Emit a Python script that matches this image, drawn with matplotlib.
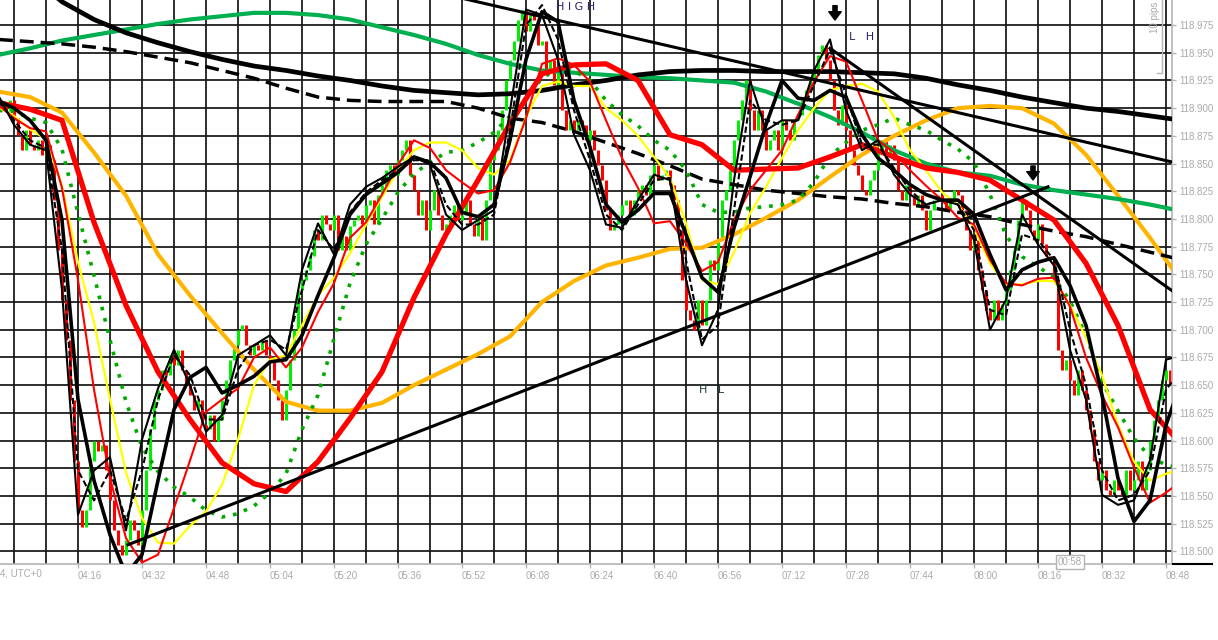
import numpy as np
import matplotlib
matplotlib.use('Agg')
import matplotlib.pyplot as plt
from matplotlib.lines import Line2D

# all series are kept in points (0.001) above 118.000
BASE = 118.0

# minute of day for each sample (04:16 -> 256)
slow_t = list(range(236, 533, 8))
fast_t = list(range(236, 533, 4))
candle_t = list(range(237, 530))

# slow averages (8 min samples)
ma_black_slow = [1052, 1020, 996, 980, 968, 959, 951, 944, 938, 934, 929, 925, 920, 916, 914, 912, 913, 916, 921,
                 925, 930, 933, 934, 934, 933, 933, 933, 932, 931, 927, 921, 916, 910, 905, 900, 897, 893, 889]
ma_green = [948, 954, 961, 966, 971, 976, 980, 983, 986, 986, 984, 980, 973, 966, 958, 948, 940, 934, 932,
            930, 928, 927, 925, 923, 915, 904, 892, 878, 862, 850, 842, 839, 831, 826, 822, 818, 813, 807]
ma_dashdot = [962, 960, 958, 955, 951, 946, 941, 934, 927, 918, 910, 907, 906, 906, 906, 900, 891, 887, 879,
              869, 859, 848, 836, 831, 826, 823, 820, 818, 814, 811, 806, 802, 795, 789, 784, 777, 770, 763]
ma_orange = [915, 910, 896, 860, 821, 768, 731, 697, 664, 635, 627, 627, 634, 650, 664, 678, 694, 725, 744,
             758, 765, 773, 774, 786, 801, 817, 838, 858, 875, 889, 900, 902, 900, 886, 858, 821, 783, 743]
ma_red_thick = [905, 899, 889, 797, 722, 662, 619, 580, 561, 554, 581, 620, 662, 729, 786, 835, 886, 931, 939,
                940, 925, 876, 867, 844, 845, 846, 856, 867, 856, 846, 842, 835, 817, 799, 760, 704, 628, 596]

# fast averages (4 min samples)
ma_green_dots = [898, 897, 891, 887, 863, 805, 749, 691, 635, 594, 572, 558, 549, 537, 531, 534, 541, 553, 570,
                 610, 641, 692, 742, 777, 800, 824, 841, 851, 860, 862, 869, 878, 893, 909, 927, 936, 934, 925,
                 907, 894, 884, 871, 862, 844, 813, 806, 806, 810, 811, 813, 817, 833, 857, 869, 880, 885, 891,
                 885, 880, 871, 863, 851, 822, 785, 766, 757, 747, 726, 695, 653, 627, 602, 585, 578, 575]
ma_yellow = [901, 893, 881, 872, 830, 761, 707, 637, 571, 530, 508, 507, 523, 536, 560, 601, 650, 673, 677,
             704, 731, 747, 769, 795, 820, 844, 862, 869, 869, 862, 846, 840, 853, 892, 920, 924, 920, 920,
             900, 889, 875, 856, 837, 796, 745, 741, 770, 805, 829, 855, 880, 900, 916, 920, 922, 915, 892,
             862, 844, 824, 813, 792, 760, 740, 741, 744, 744, 722, 693, 659, 614, 581, 564, 570, 575]
ma_red_thin = [903, 891, 882, 879, 828, 745, 646, 566, 512, 490, 497, 539, 582, 626, 637, 647, 675, 684, 666,
               684, 716, 742, 783, 797, 822, 849, 871, 864, 844, 833, 823, 826, 851, 891, 940, 945, 939, 924,
               889, 855, 828, 796, 798, 778, 753, 761, 799, 826, 844, 862, 894, 924, 947, 942, 907, 871, 860,
               844, 830, 817, 801, 795, 763, 742, 740, 746, 747, 721, 675, 641, 612, 576, 544, 553, 564]
ma_black_mid = [907, 900, 889, 871, 799, 637, 564, 515, 479, 497, 564, 628, 657, 666, 643, 650, 658, 671, 673,
                695, 731, 765, 804, 822, 832, 842, 856, 851, 837, 806, 802, 813, 871, 944, 987, 978, 907, 865,
                813, 797, 808, 823, 823, 786, 747, 734, 792, 838, 885, 925, 909, 907, 916, 910, 876, 855, 844,
                831, 822, 817, 817, 804, 768, 736, 754, 761, 765, 740, 704, 641, 566, 527, 546, 614, 655]
ma_black_fast = [912, 885, 867, 862, 736, 533, 573, 585, 519, 601, 647, 682, 650, 608, 623, 677, 686, 695, 677,
                 754, 796, 768, 813, 829, 837, 847, 856, 849, 804, 790, 799, 808, 898, 989, 984, 944, 876, 844,
                 795, 792, 817, 840, 835, 745, 686, 718, 835, 925, 880, 889, 889, 934, 962, 898, 862, 871, 840,
                 822, 813, 817, 813, 781, 700, 727, 804, 777, 758, 682, 637, 551, 542, 546, 582, 673, 677]
ma_black_dash = [907, 889, 871, 864, 772, 573, 546, 573, 528, 573, 637, 677, 659, 619, 619, 664, 686, 691, 682,
                 736, 790, 772, 806, 824, 835, 844, 853, 853, 813, 795, 795, 804, 880, 975, 993, 962, 898, 853,
                 804, 790, 813, 835, 837, 763, 691, 704, 808, 907, 889, 885, 889, 921, 953, 912, 867, 867, 846,
                 826, 813, 817, 813, 790, 718, 713, 786, 781, 763, 700, 650, 573, 546, 551, 573, 646, 664]

# one minute closes
first_open = 905
candle_close = [903, 897, 907, 891, 876, 862, 880, 867, 862, 871, 858, 867, 853, 817, 772, 727,
                691, 637, 582, 537, 522, 537, 582, 600, 591, 596, 573, 546, 519, 506, 497, 510,
                528, 519, 506, 537, 573, 610, 637, 646, 664, 659, 677, 668, 682, 664, 650, 641,
                628, 637, 614, 610, 623, 600, 619, 637, 655, 673, 686, 700, 704, 686, 677, 686,
                682, 691, 677, 673, 655, 637, 619, 646, 673, 700, 736, 745, 754, 767, 790, 781,
                804, 795, 790, 804, 772, 785, 772, 794, 799, 804, 795, 813, 817, 795, 822, 831,
                844, 849, 840, 853, 862, 871, 840, 826, 804, 817, 790, 808, 826, 804, 790, 795,
                804, 813, 799, 804, 817, 795, 785, 804, 781, 817, 853, 862, 880, 898, 925, 943,
                961, 980, 989, 970, 984, 980, 957, 961, 934, 943, 921, 934, 898, 880, 889, 880,
                889, 885, 871, 880, 862, 849, 835, 808, 790, 795, 804, 813, 817, 804, 817, 826,
                831, 822, 840, 849, 835, 840, 844, 831, 817, 790, 745, 718, 709, 700, 727, 704,
                727, 763, 754, 781, 817, 826, 844, 871, 889, 907, 925, 898, 880, 898, 880, 862,
                871, 880, 862, 889, 880, 871, 889, 894, 907, 916, 925, 934, 948, 957, 943, 925,
                898, 885, 903, 880, 862, 849, 840, 826, 822, 835, 844, 862, 871, 858, 867, 853,
                826, 817, 831, 822, 813, 822, 808, 790, 808, 817, 822, 817, 808, 817, 826, 822,
                808, 790, 772, 781, 754, 736, 718, 709, 727, 709, 723, 736, 754, 772, 799, 817,
                808, 790, 781, 795, 777, 767, 763, 745, 682, 664, 673, 655, 641, 664, 646, 628,
                610, 582, 564, 573, 555, 551, 564, 555, 551, 573, 555, 564, 582, 555, 573, 600,
                619, 637, 655, 664, 650]

# hand drawn trend lines (minute, points)
trend_high = ([345, 530], [1005, 851])
trend_lh = ([444, 530], [954, 734])
trend_support = ([268.5, 498.5], [506, 829])

price_levels = [500 + 25 * k for k in range(20)]
time_ticks = list(range(256, 529, 16))


def to_price(pts):
    return BASE + np.asarray(pts, dtype=float) / 1000.0


def main():
    W, H = 1218, 640
    fig = plt.figure(figsize=(W / 100, H / 100), dpi=100)
    ax = fig.add_axes([0, 76 / H, 1172 / W, 564 / H])
    ax.set_xlim(236.5, 529.5)
    ax.set_ylim(118.4886, 118.9976)

    # grid
    for t in range(240, 530, 8):
        ax.axvline(t, color='#141414', lw=1.25, zorder=0)
    for lv in to_price(price_levels):
        ax.axhline(lv, color='#141414', lw=1.25, zorder=0)

    # candles
    closes = to_price(candle_close)
    opens = np.r_[to_price([first_open]), closes[:-1]]
    cols = np.where(closes >= opens, '#00ee00', '#ff0000')
    ax.vlines(candle_t, np.minimum(opens, closes), np.maximum(opens, closes),
              colors=cols, lw=2.2, zorder=2)

    # moving averages
    ax.plot(slow_t, to_price(ma_orange), color='#ffb400', lw=3.0, zorder=3)
    ax.plot(slow_t, to_price(ma_green), color='#00b050', lw=3.0, zorder=3)
    ax.plot(slow_t, to_price(ma_dashdot), color='black', lw=2.5, ls=(0, (4, 2)), zorder=3)
    ax.plot(slow_t, to_price(ma_black_slow), color='black', lw=3.4, zorder=3)
    ax.plot(fast_t, to_price(ma_green_dots), color='#00aa00', lw=2.6, ls=(0, (1, 2.2)), zorder=3)
    ax.plot(fast_t, to_price(ma_yellow), color='#ffff00', lw=1.6, zorder=4)
    ax.plot(fast_t, to_price(ma_red_thin), color='#ff0000', lw=1.5, zorder=4)
    ax.plot(slow_t, to_price(ma_red_thick), color='#ff0000', lw=3.8, zorder=4)
    ax.plot(fast_t, to_price(ma_black_dash), color='black', lw=1.5, ls=(0, (3, 1.5)), zorder=5)
    ax.plot(fast_t, to_price(ma_black_fast), color='black', lw=1.5, zorder=5)
    ax.plot(fast_t, to_price(ma_black_mid), color='black', lw=2.6, zorder=5)

    # trend lines
    for tl in (trend_high, trend_lh, trend_support):
        ax.plot(tl[0], to_price(tl[1]), color='black', lw=2.2, zorder=6)

    # labels on chart
    ax.text(380.3, 118.9913, 'H I G H', color='#2e1f6b', fontsize=8, ha='center', va='center', zorder=7)
    ax.text(451.8, 118.9642, 'L   H', color='#2e1f6b', fontsize=8, ha='center', va='center', zorder=7)
    ax.text(414.5, 118.6456, 'H   L', color='#1f3f3f', fontsize=8, ha='center', va='center', zorder=7)
    arrow = dict(facecolor='black', edgecolor='black', width=3, headwidth=9, headlength=6, shrink=0)
    ax.annotate('', xy=(445.25, 118.9795), xytext=(445.25, 118.9925), arrowprops=arrow, zorder=7)
    ax.annotate('', xy=(494.75, 118.8352), xytext=(494.75, 118.8478), arrowprops=arrow, zorder=7)

    # axes styling
    gray = '#aaaaaa'
    for s in ('top', 'left'):
        ax.spines[s].set_visible(False)
    for s in ('right', 'bottom'):
        ax.spines[s].set_color('#b4b4b4')
        ax.spines[s].set_linewidth(1.2)
    ax.yaxis.tick_right()
    ax.set_yticks(to_price(price_levels))
    ax.set_yticklabels(['%.3f' % v for v in to_price(price_levels)])
    ax.set_xticks(time_ticks)
    ax.set_xticklabels(['%02d:%02d' % (t // 60, t % 60) for t in time_ticks], ha='left')
    ax.tick_params(axis='both', colors='#b4b4b4', labelcolor=gray, labelsize=7, length=3, width=1)
    ax.tick_params(axis='x', pad=2)
    ax.tick_params(axis='y', pad=2)
    for lab in ax.get_xticklabels() + ax.get_yticklabels():
        lab.set_fontfamily('Liberation Sans')

    fig.text(0 / W, 1 - 573 / H, '4, UTC+0', color=gray, fontsize=7, family='Liberation Sans',
             ha='left', va='center')
    fig.text(1070 / W, 1 - 562 / H, '00:58', color=gray, fontsize=7, family='Liberation Sans',
             ha='center', va='center',
             bbox=dict(boxstyle='square,pad=0.2', facecolor='white', edgecolor='#b4b4b4', lw=1))
    fig.text(1155 / W, 1 - 17 / H, '10 pips', color=gray, fontsize=7, family='Liberation Sans',
             rotation=90, ha='center', va='center')
    fig.add_artist(Line2D([1162 / W, 1162 / W, 1157 / W], [1.0, 1 - 73 / H, 1 - 73 / H],
                          color='#b4b4b4', lw=1))
    fig.add_artist(Line2D([1173 / W, 1212 / W], [76 / H, 76 / H], color='black', lw=1.5))

    fig.savefig('out.png', dpi=100)


if __name__ == '__main__':
    main()
